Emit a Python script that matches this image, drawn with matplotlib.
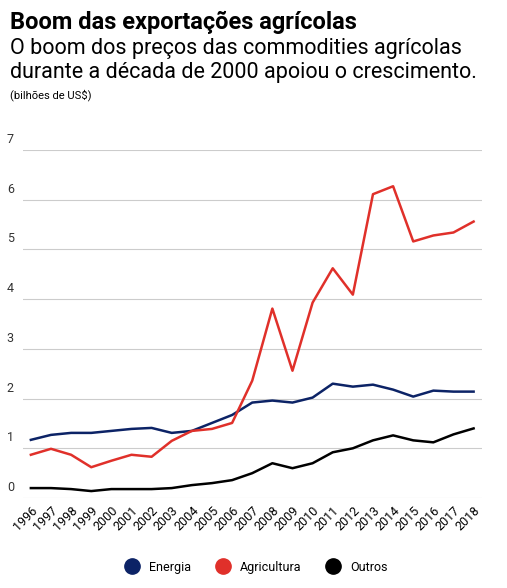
import matplotlib.pyplot as plt
import numpy as np

plt.rcParams['font.family'] = ['Roboto', 'DejaVu Sans']

years = list(range(1996, 2019))
energia = [1.17, 1.27, 1.31, 1.31, 1.35, 1.39, 1.41, 1.31, 1.35, 1.51, 1.67, 1.92,
           1.96, 1.92, 2.02, 2.30, 2.24, 2.28, 2.18, 2.04, 2.16, 2.14, 2.14]
agricultura = [0.87, 0.99, 0.87, 0.62, 0.75, 0.87, 0.83, 1.15, 1.35, 1.39, 1.51, 2.36,
               3.81, 2.56, 3.93, 4.62, 4.09, 6.11, 6.27, 5.16, 5.28, 5.34, 5.56]
outros = [0.20, 0.20, 0.18, 0.14, 0.18, 0.18, 0.18, 0.20, 0.26, 0.30, 0.36, 0.50,
          0.70, 0.60, 0.70, 0.92, 1.00, 1.16, 1.26, 1.16, 1.12, 1.28, 1.40]

fig = plt.figure(figsize=(5.07, 5.88), dpi=100)
ax = fig.add_axes([0.045, 0.153, 0.905, 0.592])

ax.plot(years, energia, color='#0c2366', lw=1.8, label='Energia')
ax.plot(years, agricultura, color='#e0302a', lw=1.8, label='Agricultura')
ax.plot(years, outros, color='#000000', lw=1.8, label='Outros')

ax.set_ylim(0, 7)
ax.set_xlim(1995.6, 2018.4)
ax.set_yticks(range(8))
ax.set_yticklabels([])
for v in range(8):
    ax.text(-0.035, v + 0.08, str(v), transform=ax.get_yaxis_transform(),
            fontsize=9, color='#333333', va='bottom', ha='left')
ax.grid(axis='y', color='#cccccc', lw=0.8)
ax.set_xticks(years)
ax.set_xticklabels([str(y) for y in years], rotation=45, ha='right',
                   rotation_mode='anchor', fontsize=9)
ax.tick_params(length=0, pad=4)
for s in ax.spines.values():
    s.set_visible(False)

fig.text(0.02, 0.962, 'Boom das exportações agrícolas', fontsize=17,
         fontweight='bold', va='center')
fig.text(0.02, 0.918, 'O boom dos preços das commodities agrícolas', fontsize=15.5,
         va='center')
fig.text(0.02, 0.876, 'durante a década de 2000 apoiou o crescimento.', fontsize=15.5,
         va='center')
fig.text(0.02, 0.838, '(bilhões de US$)', fontsize=8, va='center')

fig.legend(loc='lower center', bbox_to_anchor=(0.5, 0.005), ncol=3, frameon=False,
           handles=[plt.Line2D([], [], marker='o', ls='', markersize=11, color=c)
                    for c in ['#0c2366', '#e0302a', '#000000']],
           labels=['Energia', 'Agricultura', 'Outros'], fontsize=9,
           handletextpad=0.4, columnspacing=1.5)

fig.savefig('out.png', dpi=100)
